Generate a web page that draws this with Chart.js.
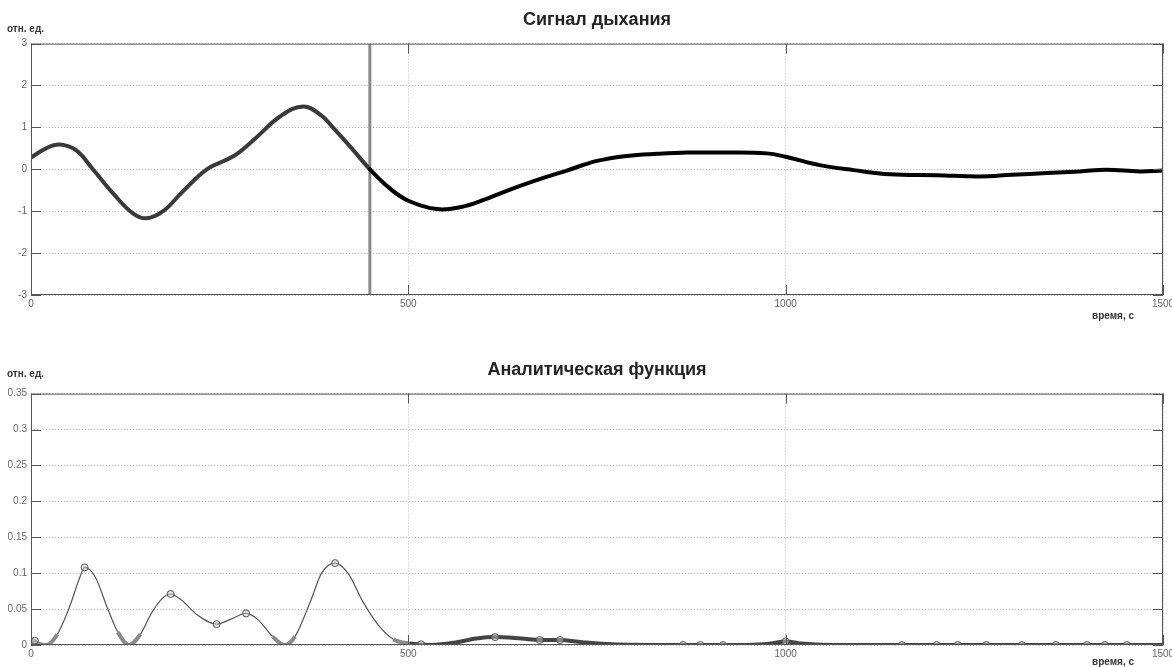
<!DOCTYPE html>
<html>
<head>
<meta charset="utf-8">
<script src="https://cdn.jsdelivr.net/npm/chart.js@4.4.0/dist/chart.umd.min.js"></script>
<style>
  body { margin: 0; background: #fff; }
  #top { position: absolute; left: 0; top: 0; width: 1172px; height: 330px; }
  #bottom { position: absolute; left: 0; top: 330px; width: 1172px; height: 337px; }
</style>
</head>
<body>
<div id="top"><canvas id="breathChart"></canvas></div>
<div id="bottom"><canvas id="analyticChart"></canvas></div>
<script>
// данные
const breathTime = [0, 20, 38, 60, 82, 110, 135, 153, 175, 200, 233, 268, 295, 330, 361, 385, 400, 425, 449,
  475, 500, 538, 570, 600, 640, 680, 710, 750, 790, 830, 870, 920, 975, 1000, 1045, 1090, 1138, 1200, 1257,
  1300, 1346, 1390, 1425, 1469, 1500];
const breathValue = [0.28, 0.5, 0.59, 0.45, 0.0, -0.6, -1.05, -1.17, -1.0, -0.55, 0.0, 0.31, 0.7, 1.26, 1.5, 1.28, 1.0, 0.5, 0.0,
  -0.45, -0.75, -0.95, -0.9, -0.73, -0.45, -0.2, -0.03, 0.2, 0.32, 0.37, 0.4, 0.4, 0.38, 0.3, 0.1, -0.02, -0.12, -0.14, -0.17,
  -0.13, -0.09, -0.05, -0.01, -0.05, -0.03];
const cursorTime = 449;

const analyticTime = [0, 10, 20, 35, 50, 65, 71, 85, 100, 115, 130, 145, 160, 175, 185, 200, 220, 246, 265, 285, 300, 320, 336,
  350, 370, 385, 403, 420, 440, 460, 480, 502, 530, 560, 590, 615, 650, 675, 700, 730, 770, 850, 950, 980, 1000, 1020, 1060,
  1200, 1350, 1500];
const analyticValue = [0.008, 0.002, 0.0, 0.015, 0.05, 0.095, 0.108, 0.095, 0.055, 0.018, 0.0, 0.015, 0.045, 0.066, 0.071, 0.062,
  0.042, 0.029, 0.036, 0.044, 0.036, 0.012, 0.0, 0.012, 0.06, 0.1, 0.114, 0.1, 0.06, 0.028, 0.008, 0.002, 0.0, 0.003, 0.009,
  0.011, 0.009, 0.007, 0.007, 0.004, 0.001, 0.0, 0.0, 0.002, 0.005, 0.002, 0.0, 0.0, 0.0, 0.0];

const markerTime = [5, 71, 185, 246, 285, 403, 517, 615, 674, 701, 864, 887, 917, 1000, 1154, 1200, 1228, 1266, 1313, 1358,
  1399, 1423, 1452];
const markerValue = [0.006, 0.108, 0.071, 0.029, 0.044, 0.114, 0.001, 0.011, 0.007, 0.007, 0.0, 0.0, 0.0, 0.005, 0.0, 0.0,
  0.0, 0.0, 0.0, 0.0, 0.0, 0.0, 0.0];

const xTicks = [0, 500, 1000, 1500];
const breathTicks = [-3, -2, -1, 0, 1, 2, 3];
const analyticTicks = [0, 0.05, 0.1, 0.15, 0.2, 0.25, 0.3, 0.35];

const tickFont = { family: '"Liberation Sans", Arial, sans-serif', size: 10 };
const titleFont = { family: '"Liberation Sans", Arial, sans-serif', size: 18, weight: 'bold' };

function toPoints(xs, ys) {
  return xs.map((x, i) => ({ x: x, y: ys[i] }));
}

// рамка, внутренние засечки и подписи осей как в MATLAB
const frame = {
  id: 'frame',
  afterDatasetsDraw(chart, args, opts) {
    const { ctx, chartArea: a, scales } = chart;
    ctx.save();
    ctx.strokeStyle = '#555';
    ctx.lineWidth = 1;
    ctx.strokeRect(a.left + 0.5, a.top + 0.5, a.right - a.left - 1, a.bottom - a.top - 1);
    ctx.beginPath();
    scales.y.ticks.forEach(t => {
      const y = Math.round(scales.y.getPixelForValue(t.value)) + 0.5;
      ctx.moveTo(a.left, y); ctx.lineTo(a.left + 10, y);
      ctx.moveTo(a.right, y); ctx.lineTo(a.right - 10, y);
    });
    scales.x.ticks.forEach(t => {
      const x = Math.round(scales.x.getPixelForValue(t.value)) + 0.5;
      ctx.moveTo(x, a.top); ctx.lineTo(x, a.top + 10);
      ctx.moveTo(x, a.bottom); ctx.lineTo(x, a.bottom - 10);
    });
    ctx.stroke();
    ctx.fillStyle = '#333';
    ctx.font = 'bold 10px "Liberation Sans", Arial, sans-serif';
    ctx.textBaseline = 'middle';
    ctx.textAlign = 'left';
    ctx.fillText(opts.yUnit, 7, a.top - opts.yUnitGap);
    ctx.fillText(opts.xUnit, 1092, a.bottom + opts.xUnitGap);
    ctx.restore();
  }
};

function axes(yMin, yMax, yTicks, xHeight) {
  return {
    x: {
      type: 'linear', min: 0, max: 1500,
      afterBuildTicks: s => { s.ticks = xTicks.map(v => ({ value: v })); },
      afterFit: s => { s.height = xHeight; s.paddingLeft = 0; s.paddingRight = 0; },
      grid: { color: '#bbb', drawTicks: false },
      border: { display: false, dash: [1, 2] },
      ticks: { font: tickFont, color: '#666', padding: 3, maxRotation: 0, callback: v => String(v) }
    },
    y: {
      min: yMin, max: yMax,
      afterBuildTicks: s => { s.ticks = yTicks.map(v => ({ value: v })); },
      afterFit: s => { s.width = 31; },
      grid: { color: '#bbb', drawTicks: false },
      border: { display: false, dash: [1, 2] },
      ticks: { font: tickFont, color: '#666', padding: 4, callback: v => String(v) }
    }
  };
}

new Chart(document.getElementById('breathChart'), {
  type: 'line',
  data: {
    datasets: [{
      data: toPoints(breathTime, breathValue),
      borderColor: '#000',
      borderWidth: 4,
      borderCapStyle: 'round',
      borderJoinStyle: 'round',
      pointRadius: 0,
      tension: 0.4,
      segment: { borderColor: c => c.p1.parsed.x <= cursorTime ? '#3a3a3a' : '#000' }
    }, {
      data: [{ x: cursorTime, y: -3 }, { x: cursorTime, y: 3 }],
      borderColor: '#8a8a8a',
      borderWidth: 3,
      pointRadius: 0
    }]
  },
  options: {
    responsive: true,
    maintainAspectRatio: false,
    animation: false,
    layout: { padding: { left: 0, right: 9, top: 0, bottom: 0 } },
    scales: axes(-3, 3, breathTicks, 35),
    plugins: {
      legend: { display: false },
      tooltip: { enabled: false },
      title: { display: true, fullSize: false, text: 'Сигнал дыхания', font: titleFont, color: '#222', padding: { top: 9, bottom: 13 } },
      frame: { yUnit: 'отн. ед.', yUnitGap: 14, xUnit: 'время, с', xUnitGap: 21 }
    }
  },
  plugins: [frame]
});

new Chart(document.getElementById('analyticChart'), {
  type: 'line',
  data: {
    datasets: [{
      type: 'scatter',
      data: toPoints(markerTime, markerValue),
      showLine: false,
      pointStyle: 'circle',
      pointRadius: 3.5,
      borderColor: '#555',
      borderWidth: 1,
      backgroundColor: 'rgba(200,200,200,0.5)'
    }, {
      data: toPoints(analyticTime, analyticValue),
      borderColor: '#555',
      borderWidth: 1.2,
      pointRadius: 0,
      cubicInterpolationMode: 'monotone',
      segment: {
        borderWidth: c => (c.p0.parsed.y < 0.02 && c.p1.parsed.y < 0.02) ? 4 : 1.2,
        borderColor: c => (c.p0.parsed.y < 0.02 && c.p1.parsed.y < 0.02)
          ? (c.p0.parsed.x >= 500 ? '#444' : '#8a8a8a') : '#555'
      }
    }]
  },
  options: {
    responsive: true,
    maintainAspectRatio: false,
    animation: false,
    layout: { padding: { left: 0, right: 9, top: 0, bottom: 0 } },
    scales: axes(0, 0.35, analyticTicks, 22),
    plugins: {
      legend: { display: false },
      tooltip: { enabled: false },
      title: { display: true, fullSize: false, text: 'Аналитическая функция', font: titleFont, color: '#222', padding: { top: 29, bottom: 13 } },
      frame: { yUnit: 'отн. ед.', yUnitGap: 19, xUnit: 'время, с', xUnitGap: 17 }
    }
  },
  plugins: [frame]
});
</script>
</body>
</html>
